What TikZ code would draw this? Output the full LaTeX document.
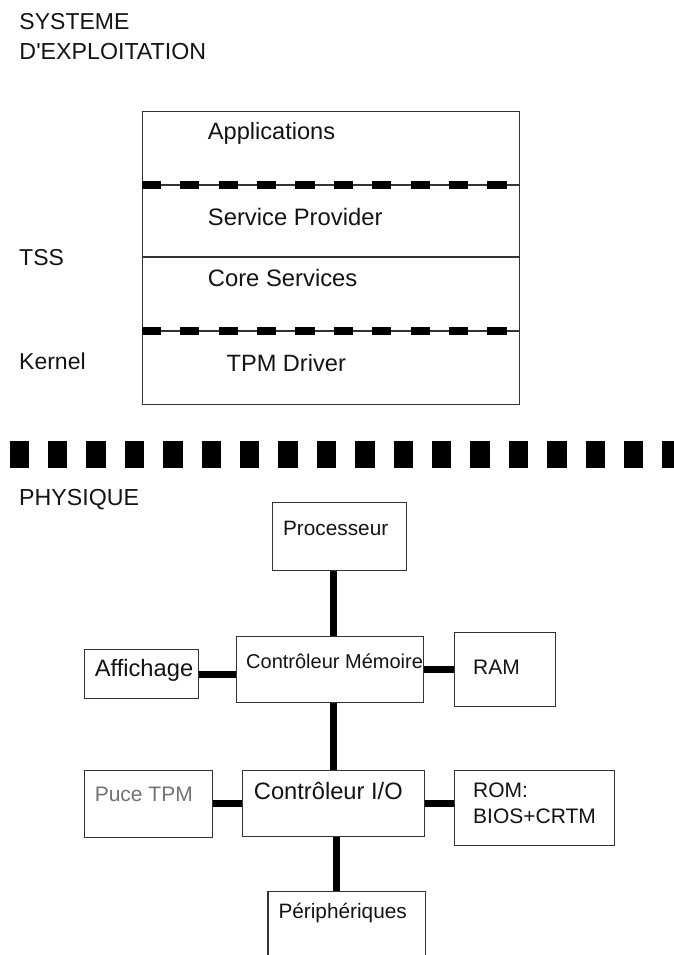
\documentclass[tikz,border=0pt]{standalone}
\usepackage{fontspec}
\usepackage{graphicx}
\newfontfamily\hv{Liberation Sans}
% text of a given size (pt) and horizontal stretch
\newcommand{\stx}[3]{\scalebox{#2}[1]{\fontsize{#1}{#1}\selectfont #3}}
\begin{document}
\begin{tikzpicture}[x=1pt,y=-1pt,
  box/.style={draw=black!80,line width=1.1pt,rectangle,inner sep=0pt,anchor=north west},
  lbl/.style={anchor=base west,inner sep=0pt,font=\hv,text=black!92},
  link/.style={line width=7pt,black},
  layerdash/.style={line width=8pt,dash pattern=on 19.3pt off 19.1pt},
  thinrule/.style={line width=1.1pt,black!80},
]
\clip (0,0) rectangle (674,955);
\fill[white] (0,0) rectangle (674,955);

% ---------- operating system layers ----------
\node[lbl] (os1) at (19.3,29.3) {\stx{23}{1}{SYSTEME}};
\node[lbl] (os2) at (19.3,59.3) {\stx{23.2}{1}{D'EXPLOITATION}};

\node[box,minimum width=377.3pt,minimum height=293pt] (os) at (141.7,111) {};
% dividers between layers
\draw[thinrule] ([yshift=-74pt]os.north west) -- ([yshift=-74pt]os.north east);
\draw[layerdash] ([yshift=-74pt]os.north west) -- ([yshift=-74pt]os.north east);
\draw[thinrule] ([yshift=-146pt]os.north west) -- ([yshift=-146pt]os.north east);
\draw[thinrule] ([yshift=-220pt]os.north west) -- ([yshift=-220pt]os.north east);
\draw[layerdash] ([yshift=-220pt]os.north west) -- ([yshift=-220pt]os.north east);

\node[lbl] (app) at (207.7,139.3) {\stx{23.6}{1}{Applications}};
\node[lbl] (sp)  at (207.7,225)   {\stx{23.8}{1}{Service Provider}};
\node[lbl] (cs)  at (207.7,286)   {\stx{23.8}{1}{Core Services}};
\node[lbl] (drv) at (226.4,371.7) {\stx{23.6}{1}{TPM Driver}};
\node[lbl] (tss) at (19,265.7)    {\stx{23}{1}{TSS}};
\node[lbl] (ker) at (19,369.3)    {\stx{23}{1}{Kernel}};

% ---------- boundary ----------
\draw[line width=26.7pt,dash pattern=on 19.4pt off 19pt] (9.5,454.3) -- (700,454.3);

% ---------- hardware ----------
\node[lbl] (phy) at (19,505) {\stx{23.2}{1}{PHYSIQUE}};

\node[box,minimum width=134.6pt,minimum height=67.5pt] (proc) at (271.7,502) {};
\node[box,minimum width=187.3pt,minimum height=66.3pt] (cm)   at (236,636) {};
\node[box,minimum width=113.9pt,minimum height=49.5pt] (aff)  at (84.3,648.7) {};
\node[box,minimum width=101.4pt,minimum height=74.4pt] (ram)  at (453.6,631.6) {};
\node[box,minimum width=127.2pt,minimum height=67pt]   (tpm)  at (84.3,770) {};
\node[box,minimum width=181.9pt,minimum height=66pt]   (io)   at (241.6,770) {};
\node[box,minimum width=160.4pt,minimum height=75pt]   (rom)  at (453.6,770) {};
\node[box,minimum width=157.4pt,minimum height=90pt]   (per)  at (267.4,891) {};

\node[lbl] at (282.9,535.4) {\stx{20.8}{1}{Processeur}};
\node[lbl] at (246,668.3)   {\stx{20}{1}{Contrôleur Mémoire}};
\node[lbl] at (94.6,676)    {\stx{23.7}{1}{Affichage}};
\node[lbl] at (473,674.3)   {\stx{21}{1}{RAM}};
\node[lbl,text=black!55] at (94.6,801.6) {\stx{21}{1}{Puce TPM}};
\node[lbl] at (253.7,799.5) {\stx{23.7}{1}{Contrôleur I/O}};
\node[lbl] at (473,797)     {\stx{21}{1}{ROM:}};
\node[lbl] at (473,823.7)   {\stx{21}{1}{BIOS+CRTM}};
\node[lbl] at (278.3,918.3) {\stx{20.8}{1}{Périphériques}};

% buses
\draw[link] (proc.south -| io.north) -- (cm.north -| io.north);
\draw[link] (cm.south -| io.north) -- (io.north);
\draw[link] (aff.east) -- (aff.east -| cm.west);
\draw[link] (cm.east) -- (cm.east -| ram.west);
\draw[link] (io.west) -- (io.west -| tpm.east);
\draw[link] (io.east) -- (io.east -| rom.west);
\draw[link] ([xshift=3.3pt]io.south) -- ([xshift=3.3pt]io.south |- per.north);
\end{tikzpicture}
\end{document}
